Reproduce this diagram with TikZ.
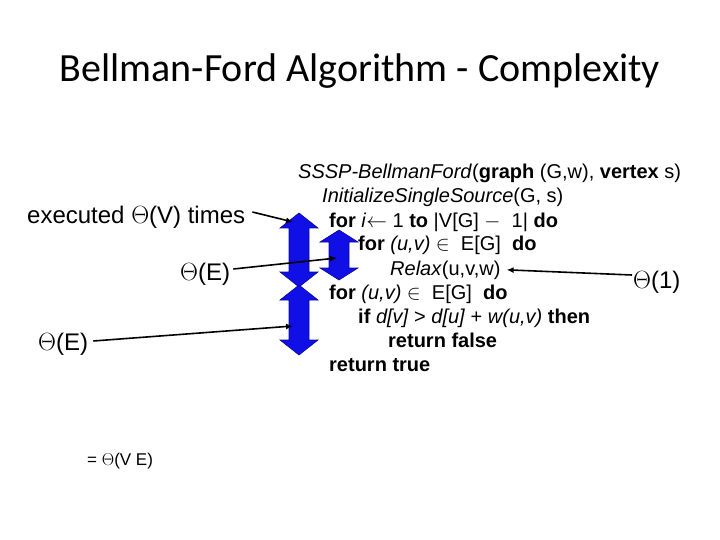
\documentclass[tikz,border=0pt]{standalone}
\usepackage{fontspec}
\setmainfont{Liberation Sans}
\newfontfamily\titlefont{Carlito}
\usetikzlibrary{arrows.meta}
\definecolor{arrblue}{RGB}{15,15,230}
\definecolor{arredge}{RGB}{10,10,150}
\tikzset{
  code/.style={anchor=base west, inner sep=0pt, font=\fontsize{20}{24}\selectfont},
  lab/.style={anchor=base west, inner sep=0pt, font=\fontsize{24}{28}\selectfont},
  small/.style={anchor=base west, inner sep=0pt, font=\fontsize{17}{20}\selectfont},
  conn/.style={line width=1.6pt, -{Latex[length=7pt,width=6pt]}},
  bluearr/.style={fill=arrblue, draw=arredge, line width=0.6pt, line join=miter},
}
% double arrow: #1 = center x, #2 = top y, #3 = bottom y, #4 = head length
\newcommand{\dblarrow}[4]{%
  \draw[bluearr] (#1,#2) -- (#1+19,#2+#4) -- (#1+10,#2+#4) -- (#1+10,#3-#4) -- (#1+19,#3-#4)
   -- (#1,#3) -- (#1-19,#3-#4) -- (#1-10,#3-#4) -- (#1-10,#2+#4) -- (#1-19,#2+#4) -- cycle;}
\begin{document}
\begin{tikzpicture}[x=1pt,y=-1pt]
\useasboundingbox (0,0) rectangle (720,540);
\node[anchor=base, inner sep=0pt, font=\titlefont\fontsize{40}{48}\selectfont] (title) at (360,82) {Bellman-Ford Algorithm - Complexity};

% blue double arrows
\dblarrow{299}{213}{287}{15}
\dblarrow{299}{285}{355}{15}
\dblarrow{339}{230}{280}{12}
\coordinate (outerloop) at (293,222);
\coordinate (innerloop) at (337,258);
\coordinate (checkloop) at (293,326);

% code
\node[code] (l1) at (298,179) {\textit{SSSP-BellmanFord}(\textbf{graph} (G,w), \textbf{vertex} s)};
\node[code] (l2) at (322,203) {\textit{InitializeSingleSource}(G, s)};
\node[code] (l3) at (329,227) {\textbf{for} \textit{i}$\leftarrow$ 1 \textbf{to} |V[G] $-$\ \ 1| \textbf{do}};
\node[code] (l4) at (358,251) {\textbf{for} \textit{(u,v)} $\in$\ \ E[G]\ \ \textbf{do}};
\node[code] (l5) at (390,275) {\textit{Relax}(u,v,w)};
\node[code] (l6) at (329,299) {\textbf{for} \textit{(u,v)} $\in$\ \ E[G]\ \ \textbf{do}};
\node[code] (l7) at (358,323) {\textbf{if} \textit{d[v]} > \textit{d[u]} + \textit{w(u,v)} \textbf{then}};
\node[code] (l8) at (388,347) {\textbf{return false}};
\node[code] (l9) at (329,371) {\textbf{return true}};

% labels
\node[lab] (exec) at (27,223) {executed \(\Theta\)(V) times};
\node[lab] (thE1) at (180,280) {\(\Theta\)(E)};
\node[lab] (thE2) at (38,350) {\(\Theta\)(E)};
\node[lab] (th1) at (633,288) {\(\Theta\)(1)};
\node[small] (total) at (87,465) {= \(\Theta\)(V E)};

% connectors
\draw[conn] ([xshift=7pt,yshift=11pt]exec.base east) -- (outerloop);
\draw[conn] ([xshift=3pt,yshift=11pt]thE1.base east) -- (innerloop);
\draw[conn] ([xshift=5pt,yshift=9pt]thE2.base east) -- (checkloop);
\draw[conn] ([xshift=-1pt,yshift=13pt]th1.base west) -- ([xshift=6pt]l5.east);
\end{tikzpicture}
\end{document}
